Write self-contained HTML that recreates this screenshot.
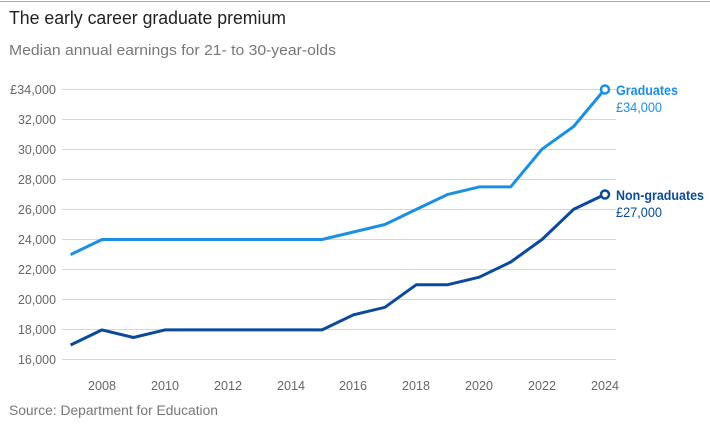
<!DOCTYPE html>
<html><head><meta charset="utf-8"><style>
body{margin:0;background:#fff;width:710px;height:428px;overflow:hidden;font-family:"Liberation Sans",sans-serif}
</style></head><body>
<svg width="710" height="428" xmlns="http://www.w3.org/2000/svg">
<line x1="0" y1="1.5" x2="710" y2="1.5" stroke="#aaa" stroke-width="1"/>
<text x="9" y="24" font-size="18" fill="#222" font-family="Liberation Sans,sans-serif" textLength="277" lengthAdjust="spacingAndGlyphs">The early career graduate premium</text>
<text x="9" y="55" font-size="15" fill="#777" font-family="Liberation Sans,sans-serif" textLength="327" lengthAdjust="spacingAndGlyphs">Median annual earnings for 21- to 30-year-olds</text>
<g stroke="#d6d6d6" stroke-width="1">
<line x1="62" y1="89.5" x2="616" y2="89.5"/><line x1="62" y1="119.5" x2="616" y2="119.5"/>
<line x1="62" y1="149.5" x2="616" y2="149.5"/><line x1="62" y1="179.5" x2="616" y2="179.5"/>
<line x1="62" y1="209.5" x2="616" y2="209.5"/><line x1="62" y1="239.5" x2="616" y2="239.5"/>
<line x1="62" y1="269.5" x2="616" y2="269.5"/><line x1="62" y1="299.5" x2="616" y2="299.5"/>
<line x1="62" y1="329.5" x2="616" y2="329.5"/><line x1="62" y1="359.5" x2="616" y2="359.5"/>
</g>
<g font-family="Liberation Sans,sans-serif" font-size="13" fill="#666" lengthAdjust="spacingAndGlyphs">
<text x="10" y="94" textLength="46" lengthAdjust="spacingAndGlyphs">£34,000</text>
<text x="18" y="124" textLength="38" lengthAdjust="spacingAndGlyphs">32,000</text>
<text x="18" y="154" textLength="38" lengthAdjust="spacingAndGlyphs">30,000</text>
<text x="18" y="184" textLength="38" lengthAdjust="spacingAndGlyphs">28,000</text>
<text x="18" y="214" textLength="38" lengthAdjust="spacingAndGlyphs">26,000</text>
<text x="18" y="244" textLength="38" lengthAdjust="spacingAndGlyphs">24,000</text>
<text x="18" y="274" textLength="38" lengthAdjust="spacingAndGlyphs">22,000</text>
<text x="18" y="304" textLength="38" lengthAdjust="spacingAndGlyphs">20,000</text>
<text x="18" y="334" textLength="38" lengthAdjust="spacingAndGlyphs">18,000</text>
<text x="18" y="364" textLength="38" lengthAdjust="spacingAndGlyphs">16,000</text>
</g>
<g font-family="Liberation Sans,sans-serif" font-size="13" fill="#666">
<text x="88" y="390" textLength="28" lengthAdjust="spacingAndGlyphs">2008</text>
<text x="151" y="390" textLength="28" lengthAdjust="spacingAndGlyphs">2010</text>
<text x="214" y="390" textLength="28" lengthAdjust="spacingAndGlyphs">2012</text>
<text x="277" y="390" textLength="28" lengthAdjust="spacingAndGlyphs">2014</text>
<text x="339" y="390" textLength="28" lengthAdjust="spacingAndGlyphs">2016</text>
<text x="402" y="390" textLength="28" lengthAdjust="spacingAndGlyphs">2018</text>
<text x="465" y="390" textLength="28" lengthAdjust="spacingAndGlyphs">2020</text>
<text x="528" y="390" textLength="28" lengthAdjust="spacingAndGlyphs">2022</text>
<text x="591" y="390" textLength="28" lengthAdjust="spacingAndGlyphs">2024</text>
</g>
<text x="9" y="415" font-size="13.5" fill="#777" font-family="Liberation Sans,sans-serif" textLength="209" lengthAdjust="spacingAndGlyphs">Source: Department for Education</text>
<polyline fill="none" stroke="#1b8fe0" stroke-width="3" stroke-linejoin="round" points="70.6,254.6 102,239.5 133.4,239.5 164.9,239.5 196.3,239.5 227.7,239.5 259.1,239.5 290.6,239.5 322,239.5 353.5,232 384.9,224.5 416.3,209.4 447.8,194.4 479.2,186.9 510.6,186.9 542,149.2 573.5,126.6 605,89"/>
<polyline fill="none" stroke="#0b4a9a" stroke-width="3" stroke-linejoin="round" points="70.6,345 102,329.9 133.4,337.5 164.9,329.9 196.3,329.9 227.7,329.9 259.1,329.9 290.6,329.9 322,329.9 353.5,314.8 384.9,307.3 416.3,284.7 447.8,284.7 479.2,277.2 510.6,262.1 542,239.5 573.5,209.4 605,194.4"/>
<circle cx="605" cy="89.5" r="4" fill="#fff" stroke="#1b8fe0" stroke-width="2.5"/>
<circle cx="605" cy="194.5" r="4" fill="#fff" stroke="#0b4a9a" stroke-width="2.5"/>
<g font-family="Liberation Sans,sans-serif" font-size="14">
<text x="616" y="95" fill="#1b8fe0" font-weight="bold" textLength="62" lengthAdjust="spacingAndGlyphs">Graduates</text>
<text x="616" y="112" fill="#1b8fe0" textLength="46" lengthAdjust="spacingAndGlyphs">£34,000</text>
<text x="616" y="200" fill="#0b4a9a" font-weight="bold" textLength="88" lengthAdjust="spacingAndGlyphs">Non-graduates</text>
<text x="616" y="217" fill="#0b4a9a" textLength="46" lengthAdjust="spacingAndGlyphs">£27,000</text>
</g>
</svg>
</body></html>
